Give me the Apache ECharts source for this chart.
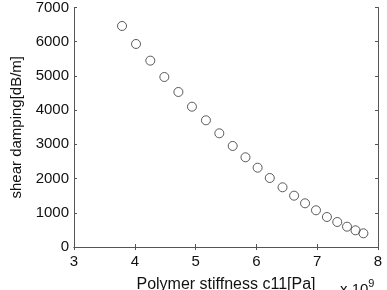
<!DOCTYPE html>
<html style="height: 100%">
<head>
<meta charset="utf-8">
<script src="https://cdn.jsdelivr.net/npm/echarts@6/dist/echarts.min.js"></script>
</head>
<body style="height: 100%; margin: 0; background: #fff">
<div id="container" style="width: 387px; height: 290px"></div>
<script type="text/javascript">
// stiffness in units of 1e9 Pa
var stiffness = [3.79, 4.02, 4.255, 4.486, 4.717, 4.94, 5.17, 5.39, 5.61, 5.82, 6.02,
                 6.22, 6.43, 6.62, 6.80, 6.98, 7.16, 7.33, 7.49, 7.63, 7.76];
var damping = [6460, 5934, 5447, 4969, 4531, 4101, 3703, 3323, 2953, 2622, 2318,
               2017, 1745, 1500, 1277, 1073, 877, 731, 594, 488, 400];

var points = [];
for (var i = 0; i < stiffness.length; i++) {
    points.push([stiffness[i], damping[i]]);
}

var font = 'Liberation Sans, Arial, sans-serif';
var myChart = echarts.init(document.getElementById('container'));

var frame = { show: true, lineStyle: { color: '#555', width: 1 } };
var ticksIn = { show: true, inside: true, length: 3, lineStyle: { color: '#555' } };

option = {
    animation: false,
    grid: { left: 74, right: 9, top: 7.5, bottom: 43, containLabel: false, outerBoundsMode: 'none' },
    xAxis: [{
        type: 'value', min: 3, max: 8, interval: 1,
        axisLine: frame, axisTick: ticksIn, splitLine: { show: false },
        axisLabel: { fontFamily: font, fontSize: 15, color: '#111', margin: 7 },
        name: 'Polymer stiffness c11[Pa]', nameLocation: 'middle', nameGap: 30,
        nameTextStyle: { fontFamily: font, fontSize: 16, color: '#111' }
    }, {
        type: 'value', position: 'top', min: 3, max: 8, interval: 1,
        axisLine: frame, axisTick: ticksIn, axisLabel: { show: false }, splitLine: { show: false }
    }],
    yAxis: [{
        type: 'value', min: 0, max: 7000, interval: 1000,
        axisLine: frame, axisTick: ticksIn, splitLine: { show: false },
        axisLabel: {
            fontFamily: font, fontSize: 15, color: '#111', margin: 5,
            formatter: function (v) { return String(v); }
        },
        name: 'shear damping[dB/m]', nameLocation: 'middle', nameGap: 50,
        nameTextStyle: { fontFamily: font, fontSize: 15, color: '#111' }
    }, {
        type: 'value', position: 'right', min: 0, max: 7000, interval: 1000,
        axisLine: frame, axisTick: ticksIn, axisLabel: { show: false }, splitLine: { show: false }
    }],
    graphic: [{
        type: 'text', left: 340, top: 278,
        style: {
            text: '{a|x 10}{b|9}',
            rich: {
                a: { fontFamily: font, fontSize: 15, fill: '#111', padding: [8, 0, 0, 0] },
                b: { fontFamily: font, fontSize: 11, fill: '#111', padding: [0, 0, 4, 0] }
            }
        }
    }],
    series: [{
        type: 'scatter',
        data: points,
        symbol: 'circle',
        symbolSize: 9,
        itemStyle: { color: 'rgba(255,255,255,0)', borderColor: '#333', borderWidth: 1 }
    }]
};

myChart.setOption(option, true);
</script>
</body>
</html>
